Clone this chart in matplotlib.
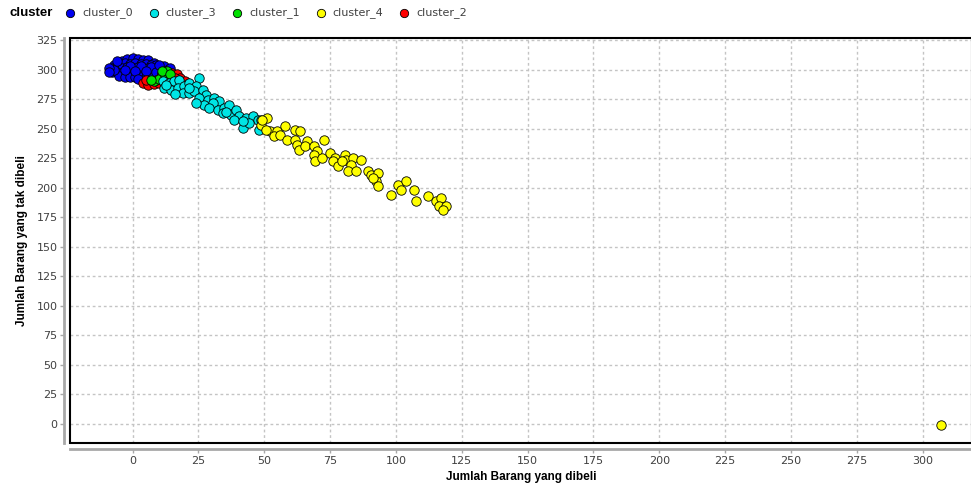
import matplotlib
matplotlib.use("Agg")
import matplotlib.pyplot as plt
from matplotlib.patches import Rectangle

# DATA
legend_names = ["cluster_0", "cluster_3", "cluster_1", "cluster_4", "cluster_2"]

c0_x = [-4, -2, 0, 2, 4, 6, 8,
        -7, -5, -3, -1, 1, 3, 5, 7, 9, 11,
        -8, -6, -4, -2, 0, 2, 4, 6, 8, 10, 12,
        -8, -6, -4, -2, 0, 2, 4, 6, 8, 10,
        -5, -3, -1, 1, 3, 5, 7,
        -7, -1, 3, 7, -3, 5, 1, 9,
        12, 13, 11, 14, -9, -9, 10, -6, 2]
c0_y = [307, 309, 310, 309, 308, 308, 306,
        304, 305, 306, 305, 306, 305, 305, 304, 304, 302,
        301, 302, 301, 302, 301, 302, 301, 301, 300, 300, 299,
        298, 298, 297, 298, 297, 298, 297, 297, 297, 296,
        295, 294, 294, 294, 294, 294, 293,
        300, 303, 303, 302, 300, 299, 299, 298,
        303, 300, 297, 301, 301, 298, 304, 307, 292]

c2_x = [4, 6, 8, 10, 9, 12, 13, 15, 17, 18, 20, 21, 16, 11, 5]
c2_y = [289, 287, 288, 289, 291, 291, 295, 297, 296, 293, 290, 288, 293, 296, 291]

c1_x = [8, 10, 12, 13, 11, 14, 7]
c1_y = [290, 292, 297, 299, 299, 296, 291]

c3_x = [11.4, 13.9, 15.8, 17.7, 25.3, 12.0, 14.6, 17.1, 19.6, 21.5, 24.1, 19.0,
        21.5, 23.4, 26.6, 27.9, 25.3, 28.5, 31.0, 32.9, 30.4, 27.2, 24.1, 29.1,
        32.3, 34.8, 36.7, 34.3, 37.4, 39.3, 40.5, 43.1, 45.6, 47.5, 48.8, 41.8,
        44.3, 38.6, 21.5, 12.7, 48.1, 16.0, 35.5, 42.0]
c3_y = [290.0, 288.7, 290.0, 291.5, 293.0, 284.5, 283.0, 284.5, 285.8, 288.7, 285.8, 280.3,
        280.3, 281.6, 283.0, 278.8, 276.0, 274.6, 276.0, 273.1, 271.8, 270.3, 271.8, 267.5,
        266.1, 267.5, 270.3, 263.3, 261.9, 266.1, 260.4, 259.1, 260.4, 257.6, 257.6, 250.6,
        254.8, 257.6, 284.5, 287.3, 249.2, 279.0, 264.5, 256.5]

c4_x = [51.1, 48.6, 52.3, 50.5, 54.8, 53.6, 56.1, 58.0, 61.8, 63.7, 58.6, 61.8,
        62.4, 63.0, 66.2, 65.5, 68.7, 72.5, 69.9, 68.7, 69.3, 71.8, 75.0, 76.9,
        76.2, 78.1, 80.6, 81.2, 79.4, 83.8, 83.1, 86.9, 81.9, 85.0, 89.4, 90.7,
        93.2, 92.6, 93.2, 91.3, 98.2, 100.8, 103.9, 102.0, 107.0, 107.7, 112.0,
        115.2, 117.0, 116.5, 119.0, 117.7, 49.2, 307.2]
c4_y = [259.0, 253.4, 247.7, 249.0, 247.7, 243.5, 244.9, 252.0, 249.0, 247.7, 240.7, 240.7,
        236.4, 232.2, 239.2, 235.0, 235.0, 240.7, 230.8, 228.0, 222.3, 225.2, 229.4, 225.2,
        222.3, 218.0, 228.0, 223.7, 222.3, 225.2, 219.5, 223.7, 213.8, 213.8, 213.8, 211.0,
        212.5, 205.3, 201.1, 208.2, 194.0, 202.5, 205.3, 198.3, 198.3, 188.4, 192.6,
        188.4, 191.3, 184.2, 184.2, 181.4, 257.6, -1.4]

ticks = list(range(0, 326, 25))

# COLOURS
col = {"cluster_0": "#0000f0", "cluster_3": "#00e5e5", "cluster_1": "#00e000",
       "cluster_4": "#ffff00", "cluster_2": "#ff0000"}

# FIGURE
fig = plt.figure(figsize=(9.71, 4.86), dpi=100)
ax = fig.add_axes([70/971, 43/486, 902/971, 405/486])

pts = {"cluster_0": (c0_x, c0_y), "cluster_2": (c2_x, c2_y), "cluster_1": (c1_x, c1_y),
       "cluster_3": (c3_x, c3_y), "cluster_4": (c4_x, c4_y)}
for name in ["cluster_0", "cluster_2", "cluster_1", "cluster_3", "cluster_4"]:
    x, y = pts[name]
    ax.scatter(x, y, s=46, c=col[name], edgecolors="black", linewidths=0.6, zorder=3)

ax.set_xlim(-23.8, 318.8)
ax.set_ylim(-16.4, 326.8)
ax.set_xticks(ticks[:13])
ax.set_yticks(ticks)
ax.grid(True, color="#c4c4c4", ls=(0, (2, 2)), lw=1)
ax.set_axisbelow(True)

for s in ["top", "right"]:
    ax.spines[s].set_visible(False)
for s in ["left", "bottom"]:
    ax.spines[s].set_position(("outward", 4))
    ax.spines[s].set_color("#a8a8a8")
    ax.spines[s].set_linewidth(2)
ax.add_patch(Rectangle((0, 0), 1, 1, transform=ax.transAxes, fill=False,
                       ec="black", lw=1.5, clip_on=False, zorder=5))
ax.tick_params(direction="out", length=3, width=1, color="#a8a8a8",
               labelcolor="#404040", labelsize=8, pad=2)

ax.set_xlabel("Jumlah Barang yang dibeli", fontsize=8.5, fontweight="bold",
              family="Liberation Sans", labelpad=4)
ax.set_ylabel("Jumlah Barang yang tak dibeli", fontsize=8.5, fontweight="bold",
              family="Liberation Sans", labelpad=6)

# LEGEND strip on top
lg = fig.add_axes([0, 1 - 28/486, 1, 28/486])
lg.set_xlim(0, 971)
lg.set_ylim(28, 0)
lg.axis("off")
lg.text(9, 13, "cluster", fontsize=9.5, fontweight="bold", family="Liberation Sans",
        va="center", ha="left")
for i, name in enumerate(legend_names):
    x0 = 70 + i*83.5
    lg.plot([x0], [13.5], "o", ms=6, mfc=col[name], mec="black", mew=0.6)
    lg.text(x0 + 12, 13, name, fontsize=8, color="#404040", va="center", ha="left")

fig.savefig("out.png", dpi=100)
